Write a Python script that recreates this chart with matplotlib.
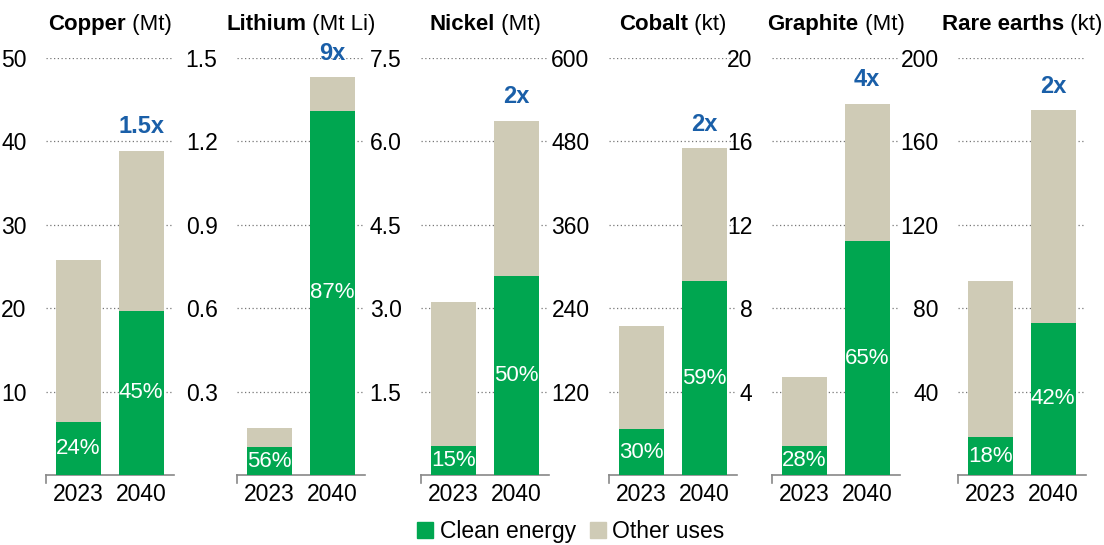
import matplotlib.pyplot as plt

plt.rcParams['font.family'] = ['Liberation Sans', 'DejaVu Sans']

# Data
minerals = ["Copper", "Lithium", "Nickel", "Cobalt", "Graphite", "Rare earths"]
units = ["(Mt)", "(Mt Li)", "(Mt)", "(kt)", "(Mt)", "(kt)"]
years = ["2023", "2040"]

clean = [[6.4, 19.7], [0.10, 1.31], [0.53, 3.58], [66, 279], [1.4, 11.2], [18, 73]]
total = [[25.8, 38.9], [0.17, 1.43], [3.12, 6.37], [215, 470], [4.7, 17.8], [93, 175]]
shares = [["24%", "45%"], ["56%", "87%"], ["15%", "50%"],
          ["30%", "59%"], ["28%", "65%"], ["18%", "42%"]]
growth = ["1.5x", "9x", "2x", "2x", "4x", "2x"]

ytop = [50, 1.5, 7.5, 600, 20, 200]
yticks = [[10, 20, 30, 40, 50],
          [0.3, 0.6, 0.9, 1.2, 1.5],
          [1.5, 3.0, 4.5, 6.0, 7.5],
          [120, 240, 360, 480, 600],
          [4, 8, 12, 16, 20],
          [40, 80, 120, 160, 200]]
ylabels = [["10", "20", "30", "40", "50"],
           ["0.3", "0.6", "0.9", "1.2", "1.5"],
           ["1.5", "3.0", "4.5", "6.0", "7.5"],
           ["120", "240", "360", "480", "600"],
           ["4", "8", "12", "16", "20"],
           ["40", "80", "120", "160", "200"]]

GREEN = "#00a650"
BEIGE = "#cfcbb6"
BLUE = "#1a5fa8"

W, H = 1104, 545
fig = plt.figure(figsize=(W / 100, H / 100), dpi=100)

lefts = [46, 237, 421, 609, 772, 958]
ax_w = 128
ax_top, ax_bot = 58, 475

titles = []
for i, name in enumerate(minerals):
    ax = fig.add_axes([lefts[i] / W, (H - ax_bot) / H, ax_w / W, (ax_bot - ax_top) / H])
    x = [0, 1]
    other = [t - c for t, c in zip(total[i], clean[i])]
    ax.bar(x, clean[i], width=0.71, color=GREEN, zorder=3)
    ax.bar(x, other, bottom=clean[i], width=0.71, color=BEIGE, zorder=3)

    for j in x:
        ax.text(j, clean[i][j] / 2, shares[i][j], color="white", fontsize=16,
                ha="center", va="center", zorder=4)
    ax.text(1, total[i][1] + ytop[i] * 0.03, growth[i], color=BLUE,
            fontsize=17, fontweight="bold", ha="center", va="bottom")

    ax.set_xlim(-0.51, 1.52)
    ax.set_ylim(0, ytop[i])
    ax.set_yticks(yticks[i])
    ax.set_yticklabels(ylabels[i])
    ax.set_xticks(x)
    ax.set_xticklabels(years)
    ax.tick_params(axis="y", length=0, pad=14, labelsize=16.5)
    ax.tick_params(axis="x", length=0, pad=6, labelsize=16.5)
    ax.yaxis.grid(True, linestyle=(0, (1, 2)), color="#777777", linewidth=0.9, zorder=0)
    for side in ["left", "right", "top"]:
        ax.spines[side].set_visible(False)
    ax.spines["bottom"].set_color("#888888")
    ax.spines["bottom"].set_linewidth(1.2)
    ax.plot([0, 0], [0, -0.02], transform=ax.transAxes, color="#888888",
            linewidth=1.2, clip_on=False)

    t1 = ax.text(0.5, 1.055, name, transform=ax.transAxes, fontsize=16,
                 fontweight="bold", ha="left", va="bottom")
    t2 = ax.annotate(" " + units[i], xy=(1, 0), xycoords=t1, fontsize=16,
                     ha="left", va="bottom")
    titles.append((ax, t1, t2))

# centre each two-part title over its panel
fig.canvas.draw()
r = fig.canvas.get_renderer()
for ax, t1, t2 in titles:
    b1 = t1.get_window_extent(r)
    b2 = t2.get_window_extent(r)
    width = b2.x1 - b1.x0
    axb = ax.get_window_extent(r)
    x0 = (axb.x0 + axb.x1) / 2 - width / 2
    t1.set_position(((x0 - axb.x0) / axb.width, 1.055))

# legend
handles = [plt.Rectangle((0, 0), 1, 1, color=GREEN),
           plt.Rectangle((0, 0), 1, 1, color=BEIGE)]
fig.legend(handles, ["Clean energy", "Other uses"], loc="lower center",
           bbox_to_anchor=(0.517, -0.035), ncol=2, frameon=False, fontsize=16.5,
           handlelength=0.7, handleheight=0.7, handletextpad=0.3, columnspacing=0.6)

fig.savefig("out.png", dpi=100)
